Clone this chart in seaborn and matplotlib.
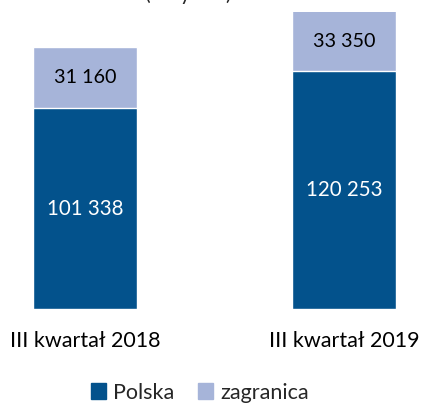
import matplotlib
matplotlib.use("Agg")
import matplotlib.pyplot as plt
import seaborn as sns
import pandas as pd
from matplotlib.patches import Patch

categories = ["III kwartał 2018", "III kwartał 2019"]
polska = [101338, 120253]
zagranica = [31160, 33350]
series_names = ["Polska", "zagranica"]

sns.set_style("white")
plt.rcParams['font.family'] = ['Lato', 'DejaVu Sans']

dark = "#03528C"
light = "#A6B4D9"
ymax = 150000

df = pd.DataFrame({"kwartal": categories, "Polska": polska, "zagranica": zagranica})
df["suma"] = df["Polska"] + df["zagranica"]

fig = plt.figure(figsize=(4.21, 4.03), dpi=100)
ax = fig.add_axes([0, 0.2333, 1, 0.7367])

sns.barplot(data=df, x="kwartal", y="suma", color=light, width=0.40, saturation=1, ax=ax)
sns.barplot(data=df, x="kwartal", y="Polska", color=dark, width=0.40, saturation=1, ax=ax)

ax.set_ylim(0, ymax)
ax.set_xlim(-0.328, 1.297)
ax.set_xlabel("")
ax.set_ylabel("")
ax.set_yticks([])
ax.tick_params(axis="x", length=0, labelsize=15.5, pad=16, colors="black")
sns.despine(ax=ax, left=True, bottom=True, top=True, right=True)

# etykiety wartosci w srodku segmentow
for i, row in df.iterrows():
    ax.text(i, row["Polska"] / 2, f"{row['Polska']:,}".replace(",", " "),
            ha="center", va="center", color="white", fontsize=14.8)
    top = min(row["suma"], ymax)
    ax.text(i, (row["Polska"] + top) / 2, f"{row['zagranica']:,}".replace(",", " "),
            ha="center", va="center", color="black", fontsize=14.2)

fig.text(0.447, 1.0, "(w tys. zł)", ha="center", va="baseline", fontsize=15)

handles = [Patch(color=dark), Patch(color=light)]
fig.legend(handles, series_names, loc="center", bbox_to_anchor=(0.475, 0.026), ncol=2,
           frameon=False, fontsize=15.5, handlelength=0.7, handleheight=0.7,
           handletextpad=0.35, columnspacing=1.1)

fig.savefig("out.png", dpi=100)
